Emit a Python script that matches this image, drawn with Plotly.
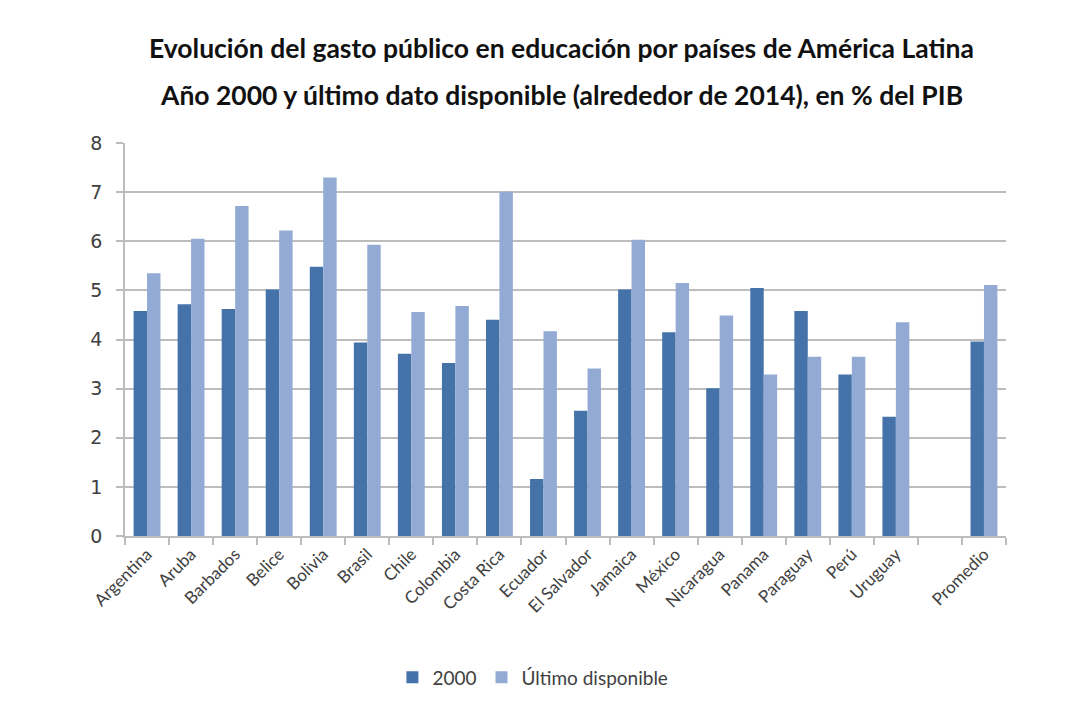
import plotly.graph_objects as go

categories = ["Argentina", "Aruba", "Barbados", "Belice", "Bolivia", "Brasil", "Chile",
              "Colombia", "Costa Rica", "Ecuador", "El Salvador", "Jamaica", "México",
              "Nicaragua", "Panama", "Paraguay", "Perú", "Uruguay", " ", "Promedio"]
values_2000 = [4.58, 4.72, 4.62, 5.02, 5.48, 3.94, 3.71, 3.52, 4.40, 1.16, 2.55, 5.02,
               4.15, 3.01, 5.05, 4.58, 3.29, 2.43, None, 3.96]
values_ultimo = [5.35, 6.05, 6.72, 6.22, 7.30, 5.93, 4.56, 4.68, 7.01, 4.17, 3.41, 6.03,
                 5.15, 4.49, 3.29, 3.65, 3.65, 4.35, None, 5.11]
series_names = ["2000", "Último disponible"]
y_ticks = [0, 1, 2, 3, 4, 5, 6, 7, 8]
title_lines = ["Evolución del gasto público en educación por países de América Latina",
               "Año 2000 y último dato disponible (alrededor de 2014), en % del PIB"]

DARK = "#4672AA"
LIGHT = "#93ABD4"
TXT = "#404040"

fig = go.Figure()
fig.add_trace(go.Bar(x=categories, y=values_2000, name=series_names[0],
                     marker=dict(color=DARK, line=dict(width=0))))
fig.add_trace(go.Bar(x=categories, y=values_ultimo, name=series_names[1],
                     marker=dict(color=LIGHT, line=dict(width=0))))

fig.update_layout(
    width=1067, height=710,
    margin=dict(l=125, r=61, t=143, b=174),
    paper_bgcolor="white", plot_bgcolor="white",
    barmode="group", bargap=0.39, bargroupgap=0,
    showlegend=True,
    legend=dict(orientation="h", x=0.463, xanchor="center", y=-0.36, yanchor="middle",
                font=dict(family="Lato", size=19, color=TXT),
                itemwidth=30, traceorder="normal"),
    font=dict(family="Lato", color=TXT),
)

fig.update_yaxes(range=[0, 8], tickvals=y_ticks, showgrid=True, gridcolor="#bdbdbd",
                 gridwidth=1.5, showline=True, linecolor="#bdbdbd", linewidth=1.5,
                 ticks="outside", ticklen=7, tickcolor="#bdbdbd", tickwidth=1.5,
                 ticklabelstandoff=10,
                 tickfont=dict(family="DejaVu Sans", size=19, color=TXT), zeroline=False,
                 fixedrange=True)
fig.update_xaxes(showline=True, linecolor="#bdbdbd", linewidth=1.5, tickson="boundaries",
                 ticks="outside", ticklen=7, tickcolor="#bdbdbd", tickwidth=1.5,
                 tickangle=-45, tickfont=dict(family="Lato", size=17, color=TXT),
                 showgrid=False, fixedrange=True)

for i, (line, yp) in enumerate(zip(title_lines, [1.2417, 1.122])):
    fig.add_annotation(text="<b>" + line + "</b>", xref="paper", yref="paper",
                       x=(561 - 125) / 881, y=yp, xanchor="center", yanchor="middle",
                       showarrow=False, font=dict(family="Lato", size=26.5, color="#111111"))

fig.write_html("out.html")
